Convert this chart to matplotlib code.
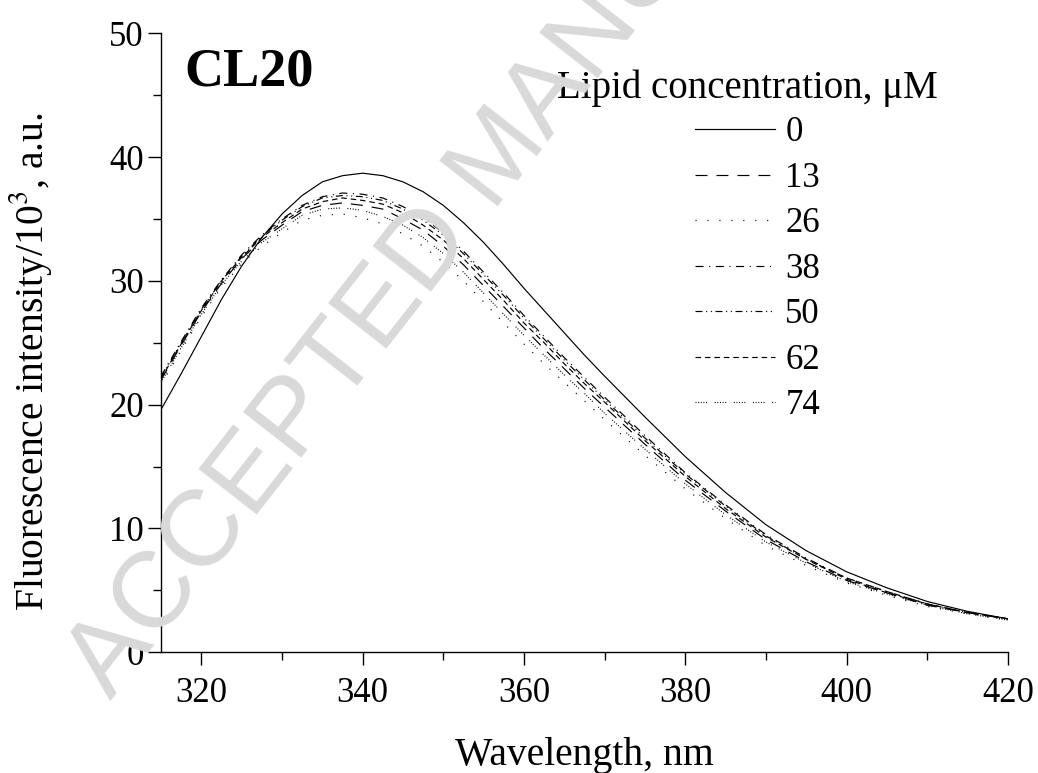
import numpy as np
import matplotlib.pyplot as plt
from matplotlib.ticker import MultipleLocator

# Wavelength grid [nm]
wavelength = [315, 317.5, 320, 322.5, 325, 327.5, 330, 332.5, 335, 337.5,
              340, 342.5, 345, 347.5, 350, 352.5, 355, 357.5, 360, 362.5,
              365, 367.5, 370, 375, 380, 385, 390, 395, 400, 405, 410, 415,
              420]

# Fluorescence intensity / 10^3 for each lipid concentration [uM]
conc_labels = ["0", "13", "26", "38", "50", "62", "74"]
i_0 = [19.6, 22.5, 25.5, 28.5, 31.2, 33.5, 35.4, 36.9, 38.0, 38.5,
       38.7, 38.5, 38.0, 37.2, 36.1, 34.7, 33.1, 31.3, 29.4, 27.6,
       25.8, 24.0, 22.3, 19.0, 15.8, 12.9, 10.3, 8.2, 6.5, 5.2, 4.1, 3.3,
       2.7]
i_13 = [22.0, 24.8, 27.5, 29.8, 31.8, 33.3, 34.5, 35.6, 36.1, 36.3,
        36.1, 35.8, 35.0, 34.1, 32.8, 31.3, 29.6, 27.9, 26.2, 24.5,
        22.9, 21.3, 19.8, 16.8, 13.9, 11.4, 9.1, 7.3, 5.8, 4.8, 3.8, 3.2,
        2.7]
i_26 = [21.6, 24.4, 27.1, 29.5, 31.4, 32.8, 33.9, 34.9, 35.3, 35.4,
        35.1, 34.6, 33.8, 32.8, 31.5, 30.0, 28.3, 26.6, 24.9, 23.3,
        21.8, 20.3, 18.8, 15.9, 13.2, 10.8, 8.6, 7.0, 5.6, 4.6, 3.7, 3.1,
        2.6]
i_38 = [22.3, 25.1, 27.8, 30.1, 32.1, 33.7, 35.0, 36.1, 36.8, 37.1,
        37.0, 36.7, 36.0, 35.1, 33.9, 32.4, 30.7, 29.0, 27.2, 25.5,
        23.8, 22.2, 20.6, 17.5, 14.5, 11.9, 9.5, 7.6, 6.0, 4.9, 3.9, 3.2,
        2.7]
i_50 = [22.2, 25.0, 27.7, 30.0, 32.0, 33.6, 34.9, 36.0, 36.7, 36.9,
        36.8, 36.5, 35.8, 34.9, 33.7, 32.2, 30.5, 28.8, 27.0, 25.3,
        23.6, 22.0, 20.4, 17.3, 14.4, 11.8, 9.4, 7.5, 6.0, 4.9, 3.9, 3.2,
        2.7]
i_62 = [22.1, 24.9, 27.6, 30.0, 31.9, 33.5, 34.7, 35.8, 36.4, 36.7,
        36.5, 36.2, 35.5, 34.5, 33.3, 31.8, 30.1, 28.4, 26.6, 25.0,
        23.3, 21.7, 20.2, 17.1, 14.2, 11.6, 9.3, 7.5, 5.9, 4.8, 3.9, 3.2,
        2.7]
i_74 = [21.8, 24.6, 27.3, 29.7, 31.6, 33.1, 34.2, 35.3, 35.8, 35.9,
        35.7, 35.2, 34.5, 33.5, 32.2, 30.7, 29.0, 27.3, 25.6, 24.0,
        22.4, 20.9, 19.3, 16.4, 13.6, 11.1, 8.9, 7.2, 5.7, 4.7, 3.8, 3.1,
        2.6]
series = [i_0, i_13, i_26, i_38, i_50, i_62, i_74]

# Line styles (dash patterns in points)
styles = [
    "-",
    (0, (8.6, 6.5)),
    (0, (0.8, 7.8)),
    (0, (5.8, 4.0, 0.8, 4.0)),
    (0, (5.0, 2.6, 0.8, 2.6, 0.8, 2.6)),
    (0, (4.0, 2.8)),
    (0, (0.7, 1.2, 0.7, 1.2, 0.7, 1.2, 0.7, 1.2, 0.7, 5.5)),
]

plt.rcParams["font.family"] = ["Liberation Serif", "DejaVu Serif"]
plt.rcParams["mathtext.fontset"] = "stix"
plt.rcParams["lines.scale_dashes"] = False

fig = plt.figure(figsize=(10.38, 7.73), dpi=100)

# Watermark
fig.text(0.482, 0.796, "ACCEPTED MANUSCRIPT", family="Liberation Sans",
         fontsize=78, color="#d9d9d9", rotation=52, ha="center", va="center",
         rotation_mode="anchor", zorder=0)

ax = fig.add_axes([0.1551, 0.1562, 0.8160, 0.8007])
ax.patch.set_alpha(0)

for vals, label, ls in zip(series, conc_labels, styles):
    ax.plot(wavelength, vals, color="black", linestyle=ls, linewidth=0.85,
            label=label)

# Formatting
ax.set_xlim(315, 420)
ax.set_ylim(0, 50)
ax.xaxis.set_major_locator(MultipleLocator(20))
ax.xaxis.set_minor_locator(MultipleLocator(10))
ax.yaxis.set_major_locator(MultipleLocator(10))
ax.yaxis.set_minor_locator(MultipleLocator(5))
for side in ("top", "right"):
    ax.spines[side].set_visible(False)
for side in ("left", "bottom"):
    ax.spines[side].set_linewidth(1.0)
ax.tick_params(which="major", direction="out", length=9.5, width=1.0,
               labelsize=25, pad=3)
ax.tick_params(axis="x", which="major", pad=8)
ax.tick_params(which="minor", direction="out", length=6, width=1.0)

ax.set_xlabel("Wavelength, nm", fontsize=28.5, labelpad=20)
ax.set_ylabel("Fluorescence intensity/10$^3$, a.u.", fontsize=28.5)
ax.yaxis.set_label_coords(-0.126, 0.47)

ax.text(0.028, 0.915, "CL20", transform=ax.transAxes, fontsize=39,
        fontweight="bold", ha="left", va="baseline")

# Legend title as separate text, entries below it
ax.text(0.917, 0.9116, "Lipid concentration, \u03bcM", transform=ax.transAxes,
        fontsize=28, ha="right", va="center")
ax.legend(
    loc="upper left",
    bbox_to_anchor=(0.6305, 0.866),
    frameon=False,
    fontsize=25,
    handlelength=2.3,
    handletextpad=0.3,
    labelspacing=0.36,
    borderpad=0,
    borderaxespad=0,
)

fig.savefig("out.png", dpi=100)
